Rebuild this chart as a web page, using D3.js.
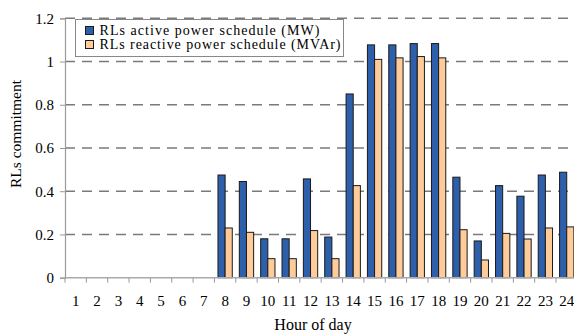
<!DOCTYPE html>
<html>
<head>
  <meta charset="UTF-8">
  <title>RLs commitment</title>
  <style>
    body { margin: 0; background: #fff; }
  </style>
</head>
<body>
<div id="chart"></div>
<script src="https://d3js.org/d3.v7.min.js"></script>
<script type="text/javascript">
  const hours = d3.range(1, 25).map(String);
  const active = [0, 0, 0, 0, 0, 0, 0, 0.475, 0.445, 0.18, 0.18, 0.457, 0.188, 0.85,
    1.077, 1.077, 1.083, 1.083, 0.465, 0.17, 0.426, 0.377, 0.475, 0.488];
  const reactive = [0, 0, 0, 0, 0, 0, 0, 0.23, 0.21, 0.088, 0.088, 0.218, 0.088, 0.426,
    1.01, 1.017, 1.023, 1.017, 0.222, 0.082, 0.205, 0.179, 0.23, 0.235];
  const yTicks = [0, 0.2, 0.4, 0.6, 0.8, 1, 1.2];
  const seriesNames = ["RLs active power schedule (MW)", "RLs reactive power schedule (MVAr)"];
  const colors = ["#2E5FAA", "#FFCC99"];

  const FONT = "Liberation Serif";
  const W = 574, H = 334;
  const plotLeft = 65, plotBottom = 277.7, plotTop = 18.3;
  const svg = d3.select("#chart").append("svg").attr("width", W).attr("height", H)
    .attr("font-family", FONT);

  const x = d3.scaleBand().domain(hours).range([plotLeft, plotLeft + 24 * 21.35]);
  const x1 = d3.scaleBand().domain([0, 1]).range([x.bandwidth() * 0.165, x.bandwidth() * 0.835]);
  const y = d3.scaleLinear().domain([0, 1.2]).range([plotBottom, plotTop]);

  // gridlines
  svg.append("g").selectAll("line").data(yTicks.slice(1)).join("line")
    .attr("x1", plotLeft).attr("x2", 569)
    .attr("y1", d => y(d)).attr("y2", d => y(d))
    .attr("stroke", "#7a7a7a").attr("stroke-width", 1.4)
    .attr("stroke-dasharray", "10,7");

  // y axis
  const yAxis = svg.append("g").attr("transform", `translate(${plotLeft},0)`)
    .call(d3.axisLeft(y).tickValues(yTicks).tickSize(5).tickPadding(6)
      .tickFormat(d => d === 0 ? "0" : d3.format("~g")(d)));
  yAxis.attr("font-family", FONT).attr("font-size", 15);
  yAxis.select(".domain").attr("stroke", "#999").attr("stroke-width", 1.2);
  yAxis.selectAll(".tick line").attr("stroke", "#999");
  yAxis.selectAll("text").attr("font-family", FONT).attr("fill", "#000");

  // bars
  const groups = svg.append("g").selectAll("g").data(hours).join("g")
    .attr("transform", d => `translate(${x(d)},0)`);
  groups.selectAll("rect").data((d, i) => [active[i], reactive[i]]).join("rect")
    .attr("x", (v, j) => x1(j))
    .attr("width", x1.bandwidth())
    .attr("y", v => y(v))
    .attr("height", v => plotBottom - y(v))
    .attr("display", v => v > 0 ? null : "none")
    .attr("fill", (v, j) => colors[j])
    .attr("stroke", "#1a1a1a").attr("stroke-width", 1);

  // x axis
  const xAxisG = svg.append("g").attr("transform", `translate(0,${plotBottom})`);
  xAxisG.append("line").attr("x1", plotLeft).attr("x2", W)
    .attr("stroke", "#aaa").attr("stroke-width", 1.5);
  xAxisG.selectAll("line.tk").data(d3.range(0, 24)).join("line").attr("class", "tk")
    .attr("x1", i => plotLeft + i * x.step()).attr("x2", i => plotLeft + i * x.step())
    .attr("y1", 0).attr("y2", 5).attr("stroke", "#999");
  xAxisG.selectAll("text").data(hours).join("text")
    .attr("x", d => x(d) + x.bandwidth() / 2).attr("y", 28)
    .attr("text-anchor", "middle")
    .attr("font-family", FONT).attr("font-size", 15)
    .text(d => d);

  // titles
  svg.append("text").attr("x", 313).attr("y", 330).attr("text-anchor", "middle")
    .attr("font-family", FONT).attr("font-size", 16).text("Hour of day");
  svg.append("text").attr("transform", "translate(21,134) rotate(-90)")
    .attr("text-anchor", "middle")
    .attr("font-family", FONT).attr("font-size", 15.5).text("RLs commitment");

  // legend
  const legendWidths = [220, 241];
  const lg = svg.append("g");
  lg.append("rect").attr("x", 75.5).attr("y", 19.5).attr("width", 268).attr("height", 37)
    .attr("fill", "#fff").attr("stroke", "#888");
  seriesNames.forEach((s, i) => {
    lg.append("rect").attr("x", 85.5).attr("y", 26.5 + i * 14).attr("width", 8).attr("height", 8)
      .attr("fill", colors[i]).attr("stroke", "#1a1a1a");
    lg.append("text").attr("x", 99.5).attr("y", 34.5 + i * 14)
      .attr("textLength", legendWidths[i]).attr("lengthAdjust", "spacing")
      .attr("font-family", FONT).attr("font-size", 14).text(s);
  });
</script>
</body>
</html>
